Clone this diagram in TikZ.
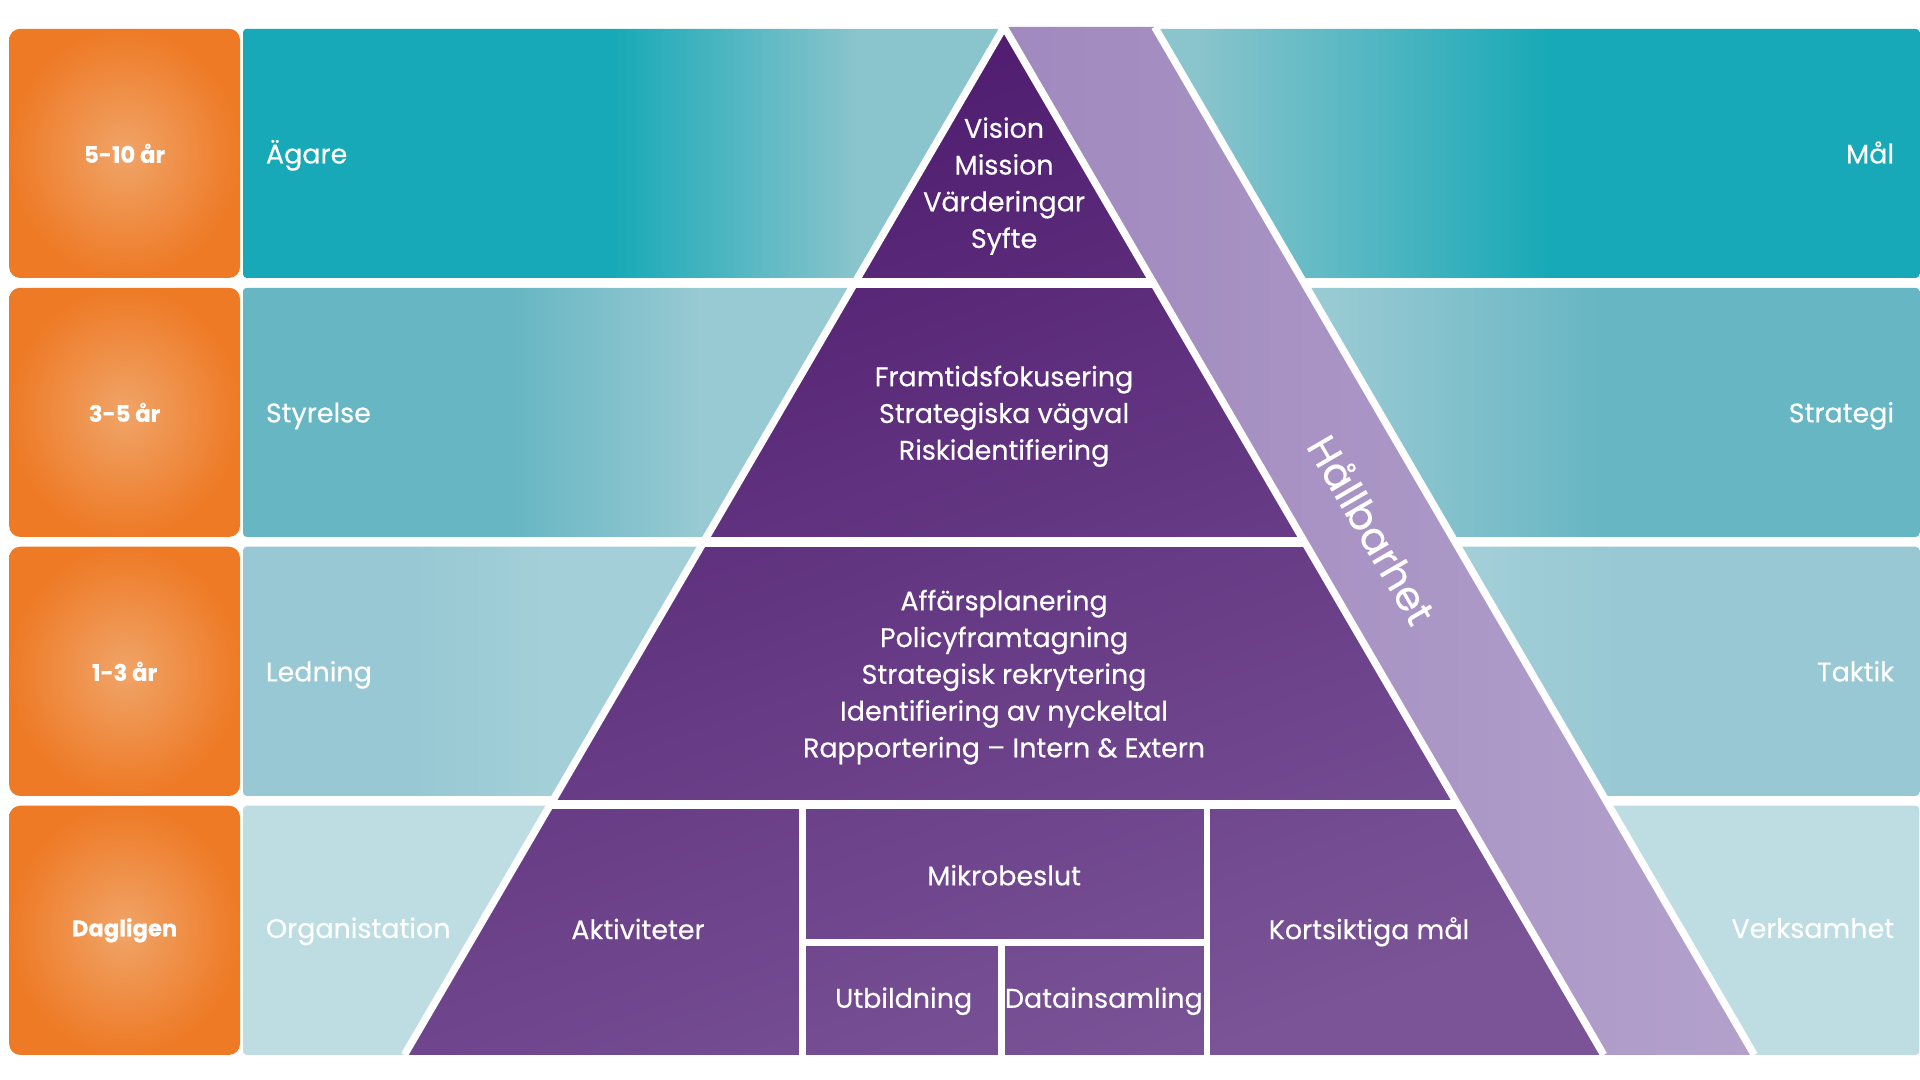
\documentclass[tikz,border=0pt]{standalone}
\usepackage{fontspec}
\setmainfont{Poppins}[FakeBold=0.35]
\definecolor{orA}{HTML}{F0A468}
\definecolor{orB}{HTML}{EE7A26}
\definecolor{tA}{HTML}{17A9B7}
\definecolor{tAl}{HTML}{8AC4CC}
\definecolor{tB}{HTML}{67B6C3}
\definecolor{tBl}{HTML}{98CAD3}
\definecolor{tC}{HTML}{97C8D3}
\definecolor{tCl}{HTML}{A3CFD8}
\definecolor{tD}{HTML}{BEDDE2}
\definecolor{pTop}{HTML}{4D196D}
\definecolor{pBot}{HTML}{7A5497}
\definecolor{bandL}{HTML}{A089BE}
\definecolor{bandR}{HTML}{B3A1CC}
\pgfdeclarehorizontalshading{rowA}{100bp}{color(0bp)=(tA); color(36bp)=(tA); color(43.3bp)=(tAl); color(53.5bp)=(tAl); color(64bp)=(tA); color(100bp)=(tA)}
\pgfdeclarehorizontalshading{rowB}{100bp}{color(0bp)=(tB); color(33bp)=(tB); color(38.7bp)=(tBl); color(57.5bp)=(tBl); color(65.5bp)=(tB); color(100bp)=(tB)}
\pgfdeclarehorizontalshading{rowC}{100bp}{color(0bp)=(tC); color(29.8bp)=(tC); color(34.2bp)=(tCl); color(61.2bp)=(tCl); color(66.3bp)=(tC); color(100bp)=(tC)}
\tikzset{
  orangebox/.style={rounded corners=9pt, inner color=orA, outer color=orB, minimum width=188.5pt, minimum height=203.5pt, inner sep=0pt, text=white, font=\fontsize{18.5}{18.5}\selectfont\bfseries},
  sidelbl/.style={text=white, inner sep=0pt, font=\fontsize{22}{22}\selectfont},
  ptxt/.style={text=white, inner sep=0pt, align=center, font=\fontsize{22}{30}\selectfont},
  gapw/.style={fill=white},
  edgew/.style={draw=white, line width=6pt},
}
\begin{document}
\begin{tikzpicture}[x=1pt,y=-1pt]
\useasboundingbox[fill=white] (0,0) rectangle (1568,882);
% teal rows
\shade[shading=rowA, rounded corners=3pt] (198.5,23.5) rectangle (1567.5,227);
\shade[shading=rowB, rounded corners=3pt] (198.5,235) rectangle (1567.5,438.5);
\shade[shading=rowC, rounded corners=3pt] (198.5,446.5) rectangle (1567.5,650);
\fill[tD, rounded corners=3pt] (198.5,658) rectangle (1567.5,861.5);
% orange boxes
\node[orangebox] (o1) at (101.75,125.25) {5-10 år};
\node[orangebox] (o2) at (101.75,336.75) {3-5 år};
\node[orangebox] (o3) at (101.75,548.25) {1-3 år};
\node[orangebox] (o4) at (101.75,759.75) {Dagligen};
% pyramid
\coordinate (apex) at (820,22);
\coordinate (bl) at (330.3,861.5);
\coordinate (br) at (1309.7,861.5);
\coordinate (bt) at (943,22);
\coordinate (bb) at (1432.7,861.5);
\begin{scope}
  \clip (apex) -- (bl) -- (br) -- cycle;
  \shade[top color=pTop, bottom color=pBot, shading angle=20] (300,10) rectangle (1340,870);
  \fill[gapw] (300,227) rectangle (1340,235);
  \fill[gapw] (300,438.5) rectangle (1340,446.5);
  \fill[gapw] (300,653) rectangle (1340,661);
  \fill[gapw] (652.5,661) rectangle (658,870);
  \fill[gapw] (983,661) rectangle (988.5,870);
  \fill[gapw] (658,767) rectangle (983,772.5);
  \fill[gapw] (815,772.5) rectangle (821,870);
\end{scope}
% band
\shade[left color=bandL, right color=bandR] (apex) -- (bt) -- (bb) -- (br) -- cycle;
\draw[edgew] (apex) -- (bl);
\draw[edgew] (apex) -- (br);
\draw[edgew] (bt) -- (bb);
% side labels
\node[sidelbl, anchor=base west] (l1) at (217,133.5) {Ägare};
\node[sidelbl, anchor=base west] (l2) at (217,345) {Styrelse};
\node[sidelbl, anchor=base west] (l3) at (217,556.5) {Ledning};
\node[sidelbl, anchor=base west] (l4) at (217,766) {Organistation};
\node[sidelbl, anchor=base east] (r1) at (1547,133.5) {Mål};
\node[sidelbl, anchor=base east] (r2) at (1547,345) {Strategi};
\node[sidelbl, anchor=base east] (r3) at (1547,556.5) {Taktik};
\node[sidelbl, anchor=base east] (r4) at (1547,766) {Verksamhet};
% pyramid texts
\node[ptxt] (p1) at (820,152) {Vision\\Mission\\Värderingar\\Syfte};
\node[ptxt] (p2) at (820,340) {Framtidsfokusering\\Strategiska vägval\\Riskidentifiering};
\node[ptxt] (p3) at (820,553) {Affärsplanering\\Policyframtagning\\Strategisk rekrytering\\Identifiering av nyckeltal\\Rapportering – Intern \& Extern};
\node[ptxt, anchor=base] (p4a) at (521,767) {Aktiviteter};
\node[ptxt, anchor=base] (p4b) at (820,723) {Mikrobeslut};
\node[ptxt, anchor=base] (p4c) at (738,823) {Utbildning};
\node[ptxt, anchor=base] (p4d) at (901.5,823) {Datainsamling};
\node[ptxt, anchor=base] (p4e) at (1118,767) {Kortsiktiga mål};
\node[text=white, inner sep=0pt, font=\fontsize{33}{33}\selectfont, rotate=-59.74] (hb) at (1121,432) {Hållbarhet};
\end{tikzpicture}
\end{document}
